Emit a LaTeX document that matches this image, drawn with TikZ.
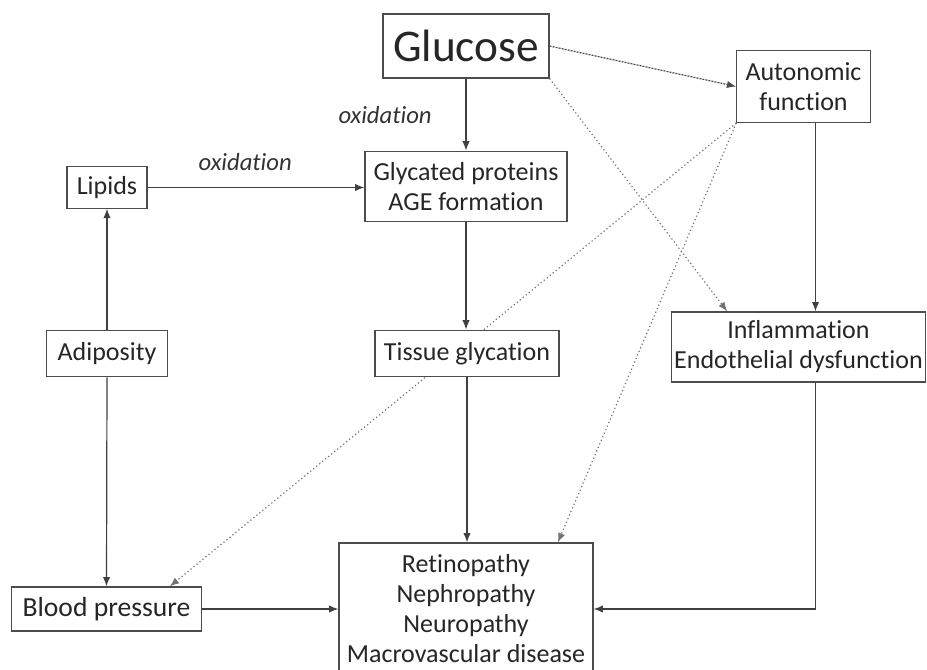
\documentclass[tikz,border=0pt]{standalone}
\usepackage{fontspec}
\setmainfont{Carlito}[Ligatures=NoCommon]
\usetikzlibrary{calc,arrows.meta,backgrounds}

\tikzset{
  box/.style={rectangle,draw=black!70,fill=white,line width=0.9pt,align=center,inner sep=0pt,
    text=black!85,font=\fontsize{19.5}{22.5}\selectfont},
  link/.style={->,black!75,line width=0.9pt},
  hint/.style={->,black!55,dotted,line width=0.9pt},
  label/.style={font=\fontsize{18.5}{22}\selectfont\itshape,text=black!80},
}

\begin{document}
\begin{tikzpicture}[x=0.75pt,y=-0.75pt,>={Latex[length=7pt,width=5.5pt]}]
    \clip (0,0) rectangle (927,670);
    \node (glucose) at (466,46) [box,minimum width=124.5pt,minimum height=48pt,font=\fontsize{34}{36}\selectfont]{Glucose};
    \node (autonomic) at (803.5,86.5) [box,minimum width=100pt,minimum height=54pt]{Autonomic\\function};
    \node (lipids) at (107,187.5) [box,minimum width=60pt,minimum height=31pt]{Lipids};
    \node (glycated) at (466,186.5) [box,minimum width=151.5pt,minimum height=53pt]{Glycated proteins\\AGE formation};
    \node (adiposity) at (107,353.5) [box,minimum width=91pt,minimum height=35pt]{Adiposity};
    \node (tissue) at (467,353.5) [box,minimum width=138pt,minimum height=35pt]{Tissue glycation};
    \node (inflam) at (798.5,347) [box,minimum width=190pt,minimum height=52.5pt]{Inflammation\\Endothelial dysfunction};
    \node (bp) at (106.5,609) [box,minimum width=143pt,minimum height=33pt,font=\fontsize{20.7}{22.5}\selectfont]{Blood pressure};
    \node (retino) at (466,609) [box,minimum width=190.5pt,minimum height=99pt]{Retinopathy\\Nephropathy\\Neuropathy\\Macrovascular disease};

    \begin{pgfonlayer}{background}
    % solid links
    \draw [link] (glucose.south) -- (glycated.north) node[midway,left=22pt,label]{oxidation};
    \draw [link] (lipids.east) -- (lipids.east -| glycated.west) node[pos=0.45,above=9pt,label]{oxidation};
    \draw [link] (adiposity.north) -- (lipids.south);
    \draw [link] (adiposity.south) -- (bp.north);
    \draw [link] (glycated.south) -- (tissue.north -| glycated.south);
    \draw [link] (tissue.south) -- (retino.north -| tissue.south);
    \draw [link] (bp.east) -- (retino.west);
    \draw [link] ([xshift=9pt]autonomic.south) -- ([xshift=9pt]autonomic.south |- inflam.north);
    \draw [link] ([xshift=13pt]inflam.south) |- (retino.east);
    % dotted links
    \draw [->,black!70,line width=0.9pt,dash pattern=on 1.5pt off 0.8pt] (glucose.east) -- (autonomic.west);
    \draw [hint] (glucose.south east) -- ($(inflam.north west)!0.22!(inflam.north east)$);
    \draw [hint] (autonomic.south west) -- ($(bp.north west)!0.83!(bp.north east)$);
    \draw [hint] (autonomic.south west) -- ($(retino.north west)!0.86!(retino.north east)$);
    \end{pgfonlayer}
\end{tikzpicture}
\end{document}
